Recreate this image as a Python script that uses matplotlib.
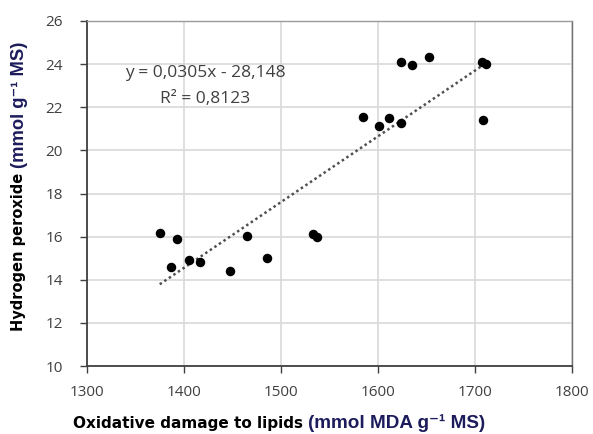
import matplotlib
matplotlib.use("Agg")
import matplotlib.pyplot as plt
import numpy as np
from matplotlib.offsetbox import TextArea, HPacker, AnnotationBbox

# Data
mda = [1375, 1387, 1393, 1405, 1417, 1447, 1465, 1486, 1533, 1537,
       1585, 1601, 1611, 1624, 1624, 1635, 1653, 1707, 1711, 1708]
h2o2 = [16.15, 14.58, 15.87, 14.91, 14.81, 14.40, 16.04, 14.99, 16.12, 16.00,
        21.56, 21.14, 21.52, 21.25, 24.08, 23.96, 24.32, 24.10, 24.02, 21.39]
slope = 0.0305
intercept = -28.148
r2 = 0.8123
xticks = [1300, 1400, 1500, 1600, 1700, 1800]
yticks = [10, 12, 14, 16, 18, 20, 22, 24, 26]

W, H = 593, 434
fig = plt.figure(figsize=(W / 100, H / 100), dpi=100)
ax = fig.add_axes([87 / W, 1 - 366 / H, (572 - 87) / W, (366 - 21) / H])

ax.set_xlim(1300, 1800)
ax.set_ylim(10, 26)
ax.set_xticks(xticks)
ax.set_yticks(yticks)
ax.grid(True, color="#d9d9d9", linewidth=1.2)
ax.set_axisbelow(True)
ax.spines["top"].set_color("#9a9a9a")
ax.spines["right"].set_color("#707070")
for s in ["top", "right"]:
    ax.spines[s].set_linewidth(1.0)
for s in ["left", "bottom"]:
    ax.spines[s].set_color("#404040")
    ax.spines[s].set_linewidth(1.3)
ax.tick_params(axis="both", length=5, width=1.0, color="#404040",
               labelsize=11, labelcolor="#404040")
ax.tick_params(axis="x", pad=8.5)
ax.tick_params(axis="y", pad=12.5)
for lab in ax.get_xticklabels() + ax.get_yticklabels():
    lab.set_family("Open Sans")

ax.scatter(mda, h2o2, s=34, color="black", zorder=3)

xl = np.array([min(mda), max(mda)])
ax.plot(xl, slope * xl + intercept, linestyle=(0, (1, 1.2)), color="#505050",
        linewidth=1.8, zorder=2)

eq = f"y = {slope:.4f}x - {abs(intercept):.3f}".replace(".", ",")
ax.text(205, H - 73, eq, transform=None, ha="center", va="center", fontsize=12.5,
        family="Open Sans", color="#404040")
ax.text(205, H - 99, f"R² = {r2:.4f}".replace(".", ","), transform=None,
        ha="center", va="center", fontsize=12.5, family="Open Sans", color="#404040")

blue = "#1c1c5c"
fam_blue = ["Liberation Sans", "DejaVu Sans"]
# x label (two colours)
t1 = TextArea("Oxidative damage to lipids ",
              textprops=dict(fontsize=11, fontweight="bold", color="black",
                             family="DejaVu Sans"))
t2 = TextArea("(mmol MDA g⁻¹ MS)",
              textprops=dict(fontsize=13.6, fontweight="bold", color=blue,
                             family=fam_blue))
box = HPacker(children=[t1, t2], align="baseline", pad=0, sep=0)
ab = AnnotationBbox(box, (279 / W, 1 - 423 / H), xycoords="figure fraction",
                    frameon=False, box_alignment=(0.5, 0.5))
fig.add_artist(ab)

# y label (two colours)
yb = 168
fig.text(19 / W, 1 - yb / H, "Hydrogen peroxide ", rotation=90,
         rotation_mode="anchor", ha="right", va="center", fontsize=10.5,
         fontweight="bold", color="black", family="DejaVu Sans")
fig.text(19 / W, 1 - yb / H, "(mmol g⁻¹ MS)", rotation=90,
         rotation_mode="anchor", ha="left", va="center", fontsize=13.2,
         fontweight="bold", color=blue, family=fam_blue)

fig.savefig("out.png", dpi=100)
